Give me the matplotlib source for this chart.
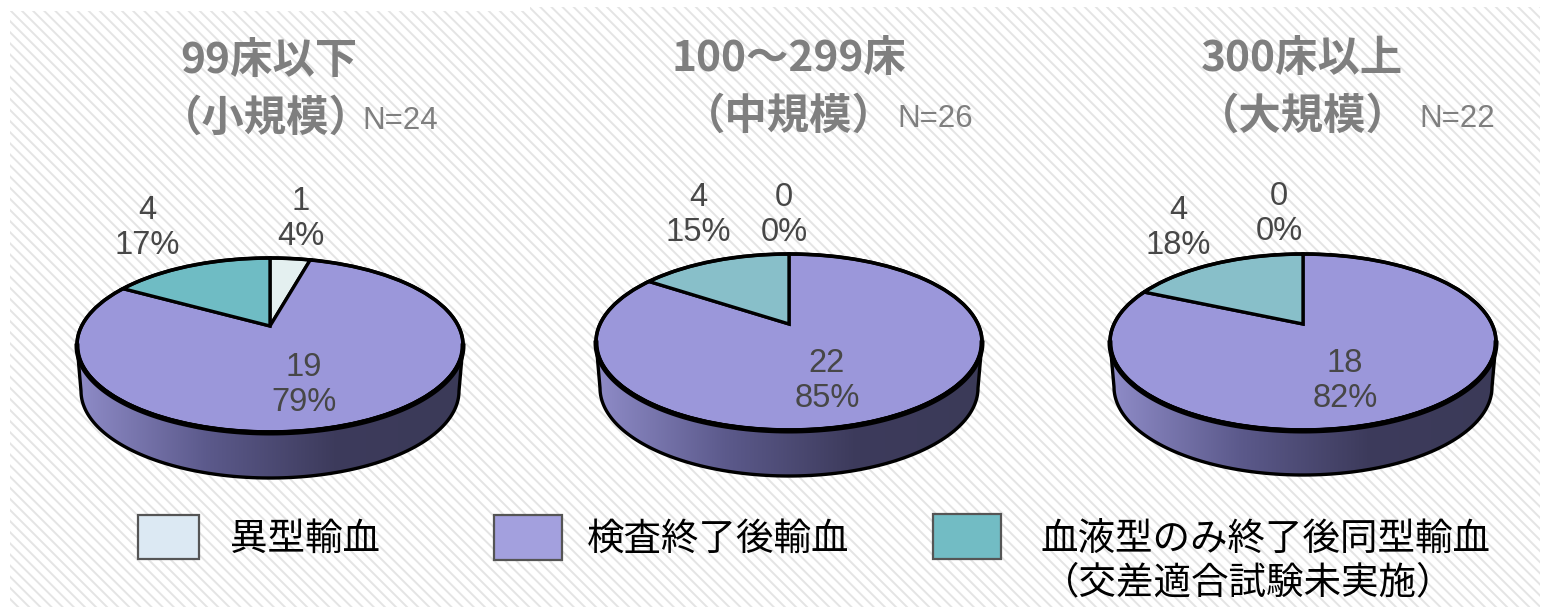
import numpy as np
import matplotlib
matplotlib.use("Agg")
import matplotlib.pyplot as plt
from matplotlib.patches import Polygon, Rectangle, Ellipse
from matplotlib.colors import LinearSegmentedColormap

CJK = ['Noto Sans CJK JP', 'DejaVu Sans']
LAT = ['Liberation Sans', 'DejaVu Sans']

titles = ["99床以下", "100～299床", "300床以上"]
subtitles = ["（小規模）", "（中規模）", "（大規模）"]
sample_sizes = ["N=24", "N=26", "N=22"]
categories = ["異型輸血", "検査終了後輸血", "血液型のみ終了後同型輸血\n（交差適合試験未実施）"]
small_values = [1, 0, 0]
main_values = [19, 22, 18]
crossmatch_skipped_values = [4, 4, 4]
percent_labels = [["4%", "79%", "17%"], ["0%", "85%", "15%"], ["0%", "82%", "18%"]]

# layout, in pixels of the reference
geom = [
    dict(cx=270, cy=345, a=193, b=87, ay=326, dy=46),
    dict(cx=789, cy=342, a=193, b=88, ay=324, dy=46),
    dict(cx=1303, cy=342, a=193, b=88, ay=324, dy=45),
]
teal = ["#6FBCC4", "#88BFC9", "#88BFC9"]
label_pos = [
    [(301, 219), (304, 385), (147, 228)],
    [(784, 215), (827, 381), (698, 215)],
    [(1279, 214), (1345, 381), (1178, 228)],
]
title_pos = [
    [(269, 61), (266, 119), (400, 121)],
    [(789, 59), (789, 117), (935, 119)],
    [(1302, 59), (1303, 117), (1457, 119)],
]
K = 0.44


def rim(g, t):
    dx, dy = np.sin(t), -K * np.cos(t)
    ox, oy = 0.0, g['ay'] - g['cy']
    A = (dx / g['a']) ** 2 + (dy / g['b']) ** 2
    B = 2 * (ox * dx / g['a'] ** 2 + oy * dy / g['b'] ** 2)
    C = (ox / g['a']) ** 2 + (oy / g['b']) ** 2 - 1
    s = (-B + np.sqrt(B * B - 4 * A * C)) / (2 * A)
    return g['cx'] + s * dx, g['ay'] + s * dy


fig = plt.figure(figsize=(15.47, 6.09), dpi=100)
ax = fig.add_axes([0, 0, 1, 1])
ax.axis('off')

plt.rcParams['hatch.linewidth'] = 1.4
for x0, x1, y0 in [(10, 530, 11), (530, 1540, 7)]:
    ax.add_patch(Rectangle((x0, y0), x1 - x0, 607 - y0, facecolor='white',
                           edgecolor='#E4E4E4', hatch='\\\\\\', lw=0, zorder=0))

cmap = LinearSegmentedColormap.from_list('side', ['#8F8CC8', '#5C5A8C', '#3D3B5C', '#3B3A58'])
grad = np.linspace(0, 1, 256).reshape(1, -1)

for i, g in enumerate(geom):
    vals = [small_values[i], main_values[i], crossmatch_skipped_values[i]]
    cx, cy, a, b = g['cx'], g['cy'], g['a'], g['b']
    # side wall
    u = np.linspace(np.pi, 0, 120)
    a2 = a - 4
    cy2 = cy + g['dy']
    px = cx + a2 * np.cos(u)
    py = cy2 + b * np.sin(u)
    side = np.column_stack([np.r_[cx - a, px, cx + a], np.r_[cy, py, cy]])
    poly = Polygon(side, closed=True, facecolor='none', edgecolor='black', lw=2.4, zorder=3)
    ax.add_patch(poly)
    im = ax.imshow(grad, extent=(cx - a, cx + a, cy + b + g['dy'] + 2, cy), cmap=cmap,
                   aspect='auto', zorder=2)
    im.set_clip_path(Polygon(side, closed=True, transform=ax.transData))
    # top face wedges, clockwise from twelve o'clock
    colors = ["#E4F0F0", "#9B97DA", teal[i]]
    total = sum(vals)
    start = 0.0
    for v, c in zip(vals, colors):
        sweep = 2 * np.pi * v / total
        ts = np.linspace(start, start + sweep, 160)
        pts = np.array([rim(g, t) for t in ts])
        pts = np.vstack([[cx, g['ay']], pts])
        ax.add_patch(Polygon(pts, closed=True, facecolor=c, edgecolor='black', lw=2.4,
                             joinstyle='miter', zorder=4))
        start += sweep
    ax.add_patch(Ellipse((cx, cy), 2 * a, 2 * b, facecolor='none', edgecolor='black', lw=2.6, zorder=5))
    u2 = np.linspace(np.pi, 0, 120)
    ax.plot(cx + a * np.cos(u2), cy + 1 + b * np.sin(u2), color='black', lw=3.6, zorder=5)
    # value labels
    for v, p, (lx, ly) in zip(vals, percent_labels[i], label_pos[i]):
        ax.text(lx, ly, f"{v}\n{p}", family=LAT, fontsize=23.5, color='#474747', ha='center',
                va='center', linespacing=1.16, zorder=6)
    # titles
    (tx, ty), (sx, sy), (nx, ny) = title_pos[i]
    ax.text(tx, ty, titles[i], family=CJK, fontsize=30.5, fontweight='bold', color='#7F7F7F',
            ha='center', va='center')
    ax.text(sx, sy, subtitles[i], family=CJK, fontsize=30.5, fontweight='bold', color='#7F7F7F',
            ha='center', va='center')
    ax.text(nx, ny, sample_sizes[i], family=LAT, fontsize=22.5, color='#7F7F7F',
            ha='center', va='center')

# legend
legend_colors = ["#DCE9F3", "#A3A0DE", "#72BCC4"]
legend_boxes = [(138, 515, 61, 44), (494, 515, 68, 45), (933, 514, 68, 45)]
legend_text = [(230, 539, 27), (587, 539, 27), (1041, 539, 27)]
for c, (x, y, w, h), name, (tx, ty, fs) in zip(legend_colors, legend_boxes, categories, legend_text):
    ax.add_patch(Rectangle((x, y), w, h, facecolor=c, edgecolor='#555555', lw=1.6, zorder=3))
    lines = name.split("\n")
    ax.text(tx, ty, lines[0], family=CJK, fontsize=fs, color='black', ha='left', va='center')
    if len(lines) > 1:
        ax.text(tx + 1, ty + 44, lines[1], family=CJK, fontsize=fs, color='black', ha='left', va='center')

ax.set_xlim(0, 1547)
ax.set_ylim(609, 0)
fig.savefig("out.png", dpi=100, facecolor='white')
